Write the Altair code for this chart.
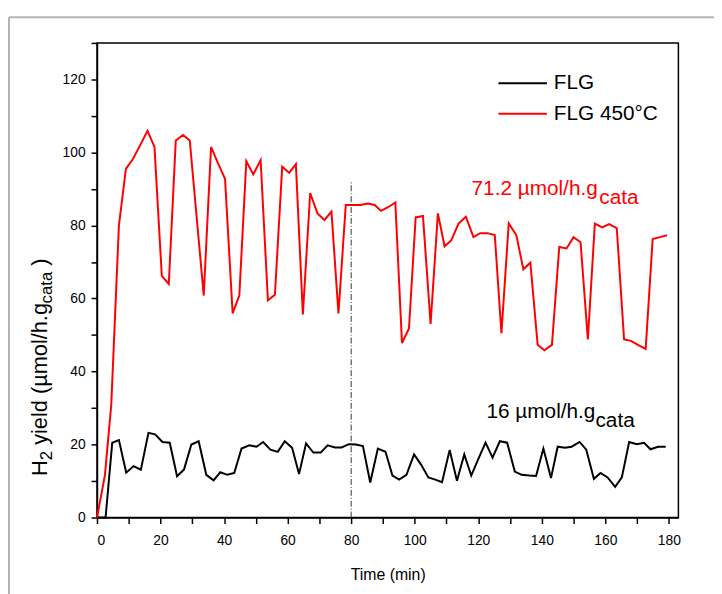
import altair as alt
import pandas as pd

# ---------------- data ----------------
flg_time = [0, 2.7, 4.8, 6.9, 9.2, 11.5, 13.8, 16.2, 18.3, 20.6, 22.9, 25.2, 27.4, 29.7,
            32.0, 34.4, 36.7, 38.8, 41.0, 43.2, 45.5, 47.9, 50.2, 52.3, 54.6, 56.9, 59.1,
            61.4, 63.6, 65.8, 68.1, 70.4, 72.6, 74.9, 77.0, 79.3, 81.5, 83.7, 86.0, 88.4,
            90.8, 93.0, 95.1, 97.4, 99.8, 102.0, 104.3, 106.5, 108.6, 111.0, 113.3, 115.6,
            117.8, 120.0, 122.3, 124.5, 126.8, 129.1, 131.5, 133.7, 136.1, 138.2, 140.5,
            142.9, 145.0, 147.3, 149.4, 151.9, 154.0, 156.4, 158.5, 160.7, 163.1, 165.2,
            167.5, 169.9, 172.2, 174.2, 176.6, 179.0]
flg_yield = [0, 0, 20.5, 21.2, 12.3, 14.1, 13.1, 23.2, 22.8, 20.7, 20.5, 11.3, 13.2, 20.0,
             20.9, 11.7, 10.2, 12.4, 11.7, 12.2, 18.9, 19.8, 19.4, 20.7, 18.6, 18.0, 20.9,
             19.1, 11.9, 20.3, 17.8, 17.8, 19.8, 19.2, 19.2, 20.1, 20.0, 19.6, 9.6, 18.9,
             18.0, 11.5, 10.4, 11.7, 17.3, 14.5, 11.0, 10.4, 9.7, 18.5, 10.1, 17.3, 11.5,
             16.0, 20.5, 16.4, 20.9, 20.5, 12.6, 11.7, 11.5, 11.4, 18.9, 10.8, 19.4, 19.1,
             19.4, 20.7, 18.6, 10.6, 12.2, 11.0, 8.4, 11.0, 20.7, 20.1, 20.5, 18.7, 19.4, 19.4]

flg450_time = [0, 2.5, 4.5, 6.9, 9.1, 11.3, 13.6, 15.9, 18.1, 20.4, 22.6, 24.8, 27.1, 29.2,
               31.4, 33.6, 35.9, 38.1, 40.3, 42.7, 44.8, 47.0, 49.2, 51.5, 53.8, 56.0, 58.3,
               60.5, 62.6, 64.8, 67.1, 69.4, 71.6, 73.8, 76.0, 78.3, 80.6, 82.9, 85.3, 87.4,
               89.4, 91.6, 93.9, 96.0, 98.2, 100.3, 102.6, 105.0, 107.3, 109.4, 111.5, 113.8,
               116.1, 118.5, 120.6, 122.9, 125.2, 127.3, 129.6, 132.0, 134.2, 136.4, 138.7,
               140.8, 143.2, 145.5, 147.8, 150.0, 152.2, 154.5, 156.7, 159.0, 161.2, 163.6,
               165.9, 168.1, 170.4, 172.7, 174.9, 177.2, 179.4]
flg450_yield = [0, 11.6, 31.0, 80.0, 95.5, 98.2, 102.0, 105.9, 101.5, 66.2, 64.0, 103.3, 104.8,
                103.3, 82.0, 60.8, 101.5, 97.0, 92.8, 55.9, 60.8, 97.6, 94.0, 97.9, 59.5, 61.0,
                96.1, 94.4, 96.8, 55.6, 88.9, 83.3, 81.5, 83.8, 55.9, 85.6, 85.6, 85.6, 86.0,
                85.6, 84.0, 85.0, 86.3, 47.8, 51.8, 82.2, 82.6, 53.0, 83.3, 74.3, 75.9, 80.5,
                82.4, 76.8, 77.9, 77.9, 77.4, 50.5, 80.6, 77.3, 68.0, 69.8, 47.3, 45.8, 47.3,
                74.1, 73.7, 76.8, 75.4, 48.8, 80.5, 79.5, 80.4, 79.3, 48.8, 48.4, 47.2, 46.2,
                76.3, 76.8, 77.3]

series_names = ["FLG", "FLG 450°C"]
series_colors = ["#000000", "#ff0000"]

marker_time = [80]
marker_bottom = [0]
marker_top = [92]

ann_labels = ["71.2 µmol/h.g", "cata", "16 µmol/h.g", "cata"]
ann_time = [117.9, 158.1, 122.6, 156.9]
ann_yield = [88.4, 85.8, 27.2, 24.8]
ann_colors = ["#ff0000", "#ff0000", "#000000", "#000000"]

x_ticks = list(range(0, 181, 10))
y_ticks = list(range(0, 131, 10))

FONT = "Liberation Sans"
W, H = 588, 480

# ---------------- tables ----------------
df = pd.concat([
    pd.DataFrame({"time": flg_time, "yield": flg_yield, "series": series_names[0]}),
    pd.DataFrame({"time": flg450_time, "yield": flg450_yield, "series": series_names[1]}),
], ignore_index=True)
marker_df = pd.DataFrame({"time": marker_time, "yield": marker_bottom, "top": marker_top})
ann_df = pd.DataFrame({"time": ann_time, "yield": ann_yield, "label": ann_labels, "color": ann_colors})

x_scale = alt.Scale(domain=[0, 183], nice=False, zero=False)
y_scale = alt.Scale(domain=[0, 130], nice=False)

X = alt.X("time:Q", scale=x_scale,
          axis=alt.Axis(values=x_ticks, labelExpr="datum.value % 20 == 0 ? datum.label : ''",
                        title="Time (min)", titleFontSize=16, titleFont=FONT, titleFontWeight="normal",
                        titlePadding=20, titleColor="#000"))
Y = alt.Y("yield:Q", scale=y_scale,
          axis=alt.Axis(values=y_ticks, labelExpr="datum.value % 20 == 0 && datum.value <= 120 ? datum.label : ''",
                        title=None))

lines = alt.Chart(df).mark_line(strokeWidth=2).encode(
    x=X, y=Y,
    color=alt.Color("series:N", scale=alt.Scale(domain=series_names, range=series_colors), legend=None),
)

marker = alt.Chart(marker_df).mark_rule(color="#333333", strokeWidth=1, strokeDash=[6, 2, 1, 2]).encode(
    x=X, y=Y, y2="top:Q"
)

ann = alt.Chart(ann_df).mark_text(align="left", baseline="alphabetic", font=FONT, fontSize=21).encode(
    x=X, y=Y, text="label:N", color=alt.Color("color:N", scale=None)
)

# legend (drawn manually)
leg_df = pd.DataFrame({"series": series_names, "color": series_colors})
leg_layers = []
for i, (name, col) in enumerate(zip(series_names, series_colors)):
    yy = 40.7 + 31 * i
    sub = leg_df[leg_df.series == name]
    leg_layers.append(alt.Chart(sub).mark_rule(strokeWidth=2, color=col).encode(
        x=alt.value(406), x2=alt.value(455), y=alt.value(yy)))
    leg_layers.append(alt.Chart(sub).mark_text(align="left", baseline="middle", font=FONT,
                                               fontSize=21, color="#000").encode(
        x=alt.value(462), y=alt.value(yy), text="series:N"))

# y-axis title with subscripts
ytitle_parts = [("H", 22, -51, 438), ("2", 17, -46, 422.1), ("yield (µmol/h.g", 22, -51, 406.5),
                ("cata", 17, -46, 263.5), (")", 22, -51, 225.3)]
ytitle_layers = []
for txt, fs, xx, yy in ytitle_parts:
    ytitle_layers.append(alt.Chart(pd.DataFrame({"t": [txt]})).mark_text(
        align="left", baseline="alphabetic", angle=270, font=FONT, fontSize=fs, color="#000").encode(
        x=alt.value(xx), y=alt.value(yy), text="t:N"))

# outer light frame of the figure
frame_layers = [
    alt.Chart(pd.DataFrame({"a": [0]})).mark_rule(color="#b4b4b4", strokeWidth=2).encode(
        x=alt.value(-89), y=alt.value(-26), y2=alt.value(H + 80)),
    alt.Chart(pd.DataFrame({"a": [0]})).mark_rule(color="#b4b4b4", strokeWidth=2).encode(
        x=alt.value(-89), x2=alt.value(W + 60), y=alt.value(-26)),
]

chart = alt.layer(lines, marker, ann, *leg_layers, *ytitle_layers, *frame_layers).properties(
    width=W, height=H,
    autosize=alt.AutoSizeParams(type="none"),
    padding={"left": 90, "top": 32, "right": 36, "bottom": 74},
).configure_view(
    stroke="#000000", strokeWidth=1.5
).configure_axis(
    domainColor="#000000", domainWidth=1.5, tickColor="#000000", tickWidth=1.5, tickSize=6,
    labelFont=FONT, labelFontSize=14, labelColor="#000000", grid=False,
).configure_axisX(labelPadding=10).configure_axisY(labelPadding=6)

chart.save("out.html", embed_options={"renderer": "svg", "actions": False})
